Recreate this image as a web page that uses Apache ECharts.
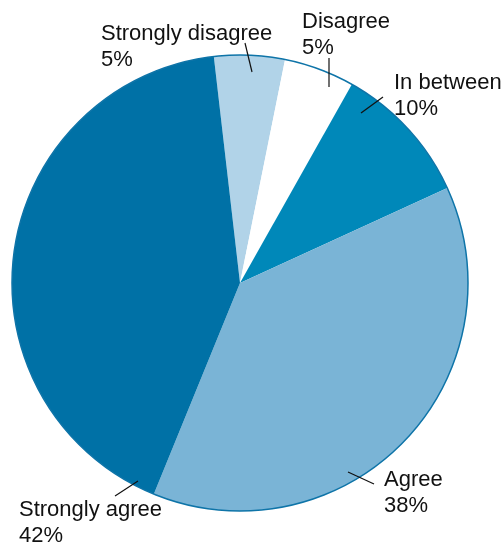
<!DOCTYPE html>
<html>
<head>
<meta charset="utf-8">
<style>
  html, body { margin: 0; padding: 0; background: #fff; }
  #chart { width: 502px; height: 544px; }
</style>
<script src="https://cdn.jsdelivr.net/npm/echarts@6/dist/echarts.min.js"></script>
</head>
<body>
<div id="chart"></div>
<script>
// Survey answers, in drawing order (clockwise from just left of 12 o'clock)
const categories = ['Strongly disagree', 'Disagree', 'In between', 'Agree', 'Strongly agree'];
const shares = [5, 5, 10, 38, 42];
const sliceColors = ['#b1d3e8', '#ffffff', '#0088b9', '#7ab4d6', '#0071a6'];

// Where each two-line label sits (top-left corner) and its short leader line
const labelSpots = [
  { x: 101, y: 21,  line: [[245, 43], [252, 72]] },
  { x: 302, y: 9,   line: [[329, 58], [329, 87]] },
  { x: 394, y: 70,  line: [[383, 97], [361, 113]] },
  { x: 384, y: 467, line: [[374, 484], [348, 472]] },
  { x: 19,  y: 497, line: [[115, 496], [138, 481]] }
];

const chart = echarts.init(document.getElementById('chart'), null, { renderer: 'canvas' });

const CX = 240, CY = 283, R = 228;
const START = 96.6;

const pieData = categories.map((name, i) => ({
  name: name,
  value: shares[i],
  itemStyle: { color: sliceColors[i] }
}));

chart.setOption({
  animation: false,
  series: [
    {
      // filled slices, no separators between them
      type: 'pie',
      center: [CX, CY],
      radius: R,
      startAngle: START,
      clockwise: true,
      silent: true,
      label: { show: false },
      labelLine: { show: false },
      itemStyle: { borderWidth: 0 },
      data: pieData
    },
    {
      // thin outer rim around the whole disc
      type: 'pie',
      center: [CX, CY],
      radius: R,
      silent: true,
      z: 5,
      label: { show: false },
      labelLine: { show: false },
      itemStyle: { color: 'rgba(0,0,0,0)', borderColor: '#0e74a8', borderWidth: 1.5 },
      data: [{ value: 1, name: 'rim' }]
    },
    {
      // same slices, invisible, carrying the labels and leader lines on top
      type: 'pie',
      center: [CX, CY],
      radius: R,
      startAngle: START,
      clockwise: true,
      avoidLabelOverlap: false,
      silent: true,
      z: 6,
      itemStyle: { color: 'rgba(0,0,0,0)', borderWidth: 0 },
      data: categories.map((name, i) => ({ name: name, value: shares[i] })),
      label: {
        show: true,
        position: 'outside',
        formatter: '{b}\n{c}%',
        fontFamily: 'Liberation Sans, Arial, sans-serif',
        fontSize: 22,
        lineHeight: 26,
        color: '#111',
        align: 'left'
      },
      labelLine: {
        show: true,
        lineStyle: { color: '#111', width: 1.2 }
      },
      labelLayout: function (params) {
        const s = labelSpots[params.dataIndex];
        return {
          x: s.x,
          y: s.y,
          align: 'left',
          verticalAlign: 'top',
          labelLinePoints: s.line
        };
      }
    }
  ]
});
</script>
</body>
</html>
